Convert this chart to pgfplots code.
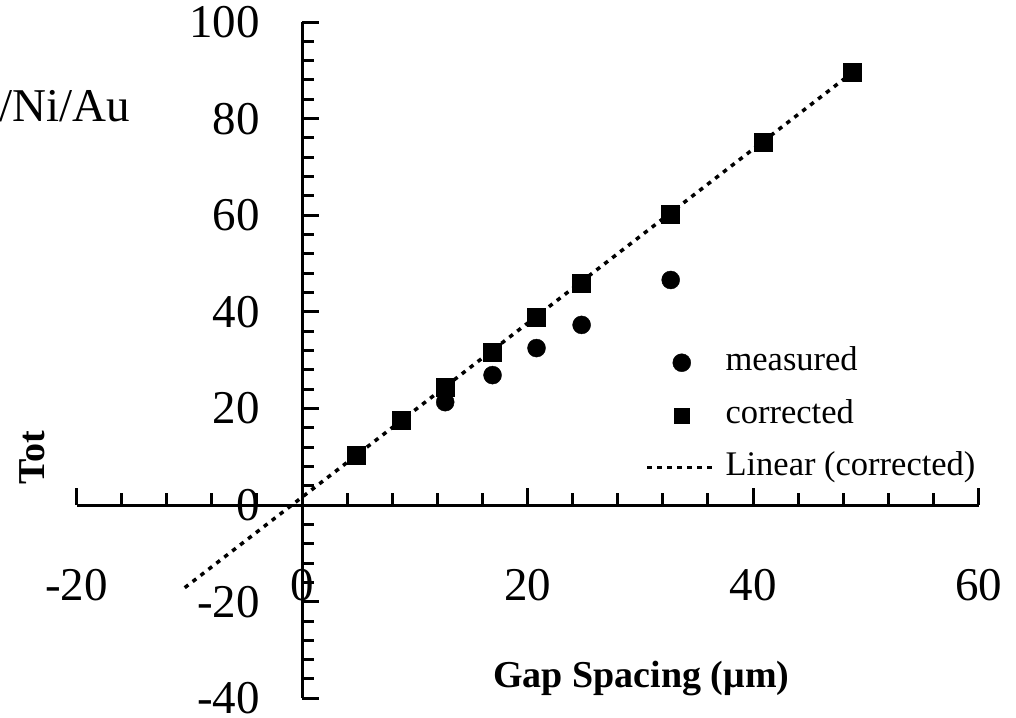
\documentclass[border=0pt]{standalone}
\usepackage{fontspec}
\setmainfont{Liberation Serif}
\usepackage{pgfplots}
\pgfplotsset{compat=1.18}
\pgfplotsset{
  legmark/.style={legend image code/.code={\draw[##1] plot coordinates {(34.5pt,0pt)};}},
  legmarksmall/.style={legend image code/.code={\draw[##1, mark size=7.5pt] plot coordinates {(34.5pt,0pt)};}},
  legline/.style={legend image code/.code={\draw[##1] (0pt,0pt) -- (69pt,0pt);}},
}
\begin{document}
\begin{tikzpicture}
\useasboundingbox (0pt,0pt) rectangle (1016pt,-717pt);
\clip (0pt,0pt) rectangle (1016pt,-717pt);
\begin{axis}[
  scale only axis, width=902pt, height=676.3pt,
  at={(76.5pt,-698.3pt)}, anchor=south west,
  axis lines=middle,
  axis line style={-, line width=3pt, black},
  every inner x axis line/.append style={-},
  every inner y axis line/.append style={-},
  xmin=-20, xmax=60, ymin=-40, ymax=100,
  xtick={-20,0,20,40,60}, xticklabels={-20,0,20,40,60},
  ytick={-40,-20,0,20,40,60,80,100}, yticklabels={-40,-20,0,20,40,60,80,100},
  minor x tick num=4, minor y tick num=4,
  tick align=inside,
  major tick length=17pt, minor tick length=12pt,
  tick style={black, line width=3pt},
  hide obscured x ticks=false, hide obscured y ticks=false,
  xticklabel style={anchor=center, yshift=-80pt, inner sep=0pt, font=\fontsize{47}{50}\selectfont},
  yticklabel style={anchor=east, xshift=-42pt, inner sep=0pt, font=\fontsize{47}{50}\selectfont},
  xlabel={Gap Spacing (μm)},
  xlabel style={at={(axis cs:30.1,-37.7)}, anchor=base, inner sep=0pt, font=\fontsize{38}{40}\selectfont\bfseries},
  clip=false,
  legend style={draw=none, fill=none, at={(axis cs:30.45,18.6)}, anchor=west,
    inner sep=0pt, row sep=20.5pt, column sep=7.5pt,
    font=\fontsize{34.5}{40}\selectfont,
    nodes={inner sep=0pt, text height=24pt, text depth=8pt}},
  legend cell align=left,
]
\addplot[only marks, mark=*, mark size=9pt, black, legmark]
  coordinates {(12.7,21.3) (16.9,26.9) (20.8,32.5) (24.8,37.3) (32.7,46.6)};
\addlegendentry{measured}
\addplot[only marks, mark=square*, mark size=9pt, black, legmarksmall]
  coordinates {(4.8,10.3) (8.8,17.6) (12.7,24.4) (16.9,31.7) (20.8,38.9) (24.8,45.9) (32.7,60.2) (40.9,75.1) (48.8,89.6)};
\addlegendentry{corrected}
\addplot[black, line width=3.5pt, dash pattern=on 4.5pt off 5.5pt, legline]
  coordinates {(-10.4,-17.1) (48.8,89.5)};
\addlegendentry{Linear (corrected)}
\end{axis}
\node[anchor=base east, inner sep=0pt, font=\fontsize{47}{50}\selectfont] at (130pt,-121pt) {/Ni/Au};
\node[rotate=90, anchor=base, inner sep=0pt, font=\fontsize{38}{40}\selectfont\bfseries] at (44pt,-458pt) {Tot};
\end{tikzpicture}
\end{document}
